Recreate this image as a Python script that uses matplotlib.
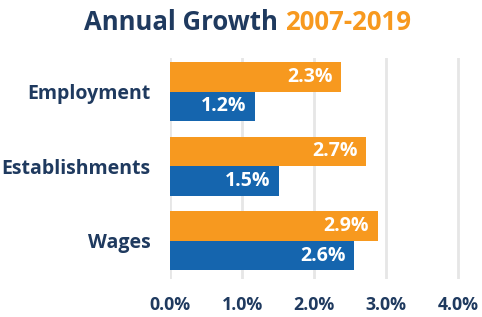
import matplotlib
matplotlib.use("Agg")
import matplotlib.pyplot as plt
import numpy as np

plt.rcParams['font.family'] = ['Open Sans', 'DejaVu Sans']

categories = ["Employment", "Establishments", "Wages"]
orange_vals = [2.38, 2.72, 2.88]
blue_vals = [1.18, 1.51, 2.56]
orange_labels = ["2.3%", "2.7%", "2.9%"]
blue_labels = ["1.2%", "1.5%", "2.6%"]
xticks = [0, 1, 2, 3, 4]
xtick_labels = ["0.0%", "1.0%", "2.0%", "3.0%", "4.0%"]

ORANGE = "#F7991F"
BLUE = "#1565AE"
NAVY = "#1F3A5F"

fig = plt.figure(figsize=(4.82, 3.17), dpi=100, facecolor="white")
# axes in pixels: left 170, right ~482, top 58, bottom 279
ax = fig.add_axes([170 / 482, 1 - 279 / 317, (482 - 170) / 482, (279 - 58) / 317])

y = np.arange(len(categories))
h = 0.396
ax.barh(y - h / 2, orange_vals, height=h, color=ORANGE, zorder=3)
ax.barh(y + h / 2, blue_vals, height=h, color=BLUE, zorder=3)

for i in range(len(categories)):
    ax.text(orange_vals[i] - 0.12, y[i] - h / 2, orange_labels[i], color="white",
            fontsize=14, fontweight="bold", ha="right", va="center", zorder=4)
    ax.text(blue_vals[i] - 0.12, y[i] + h / 2, blue_labels[i], color="white",
            fontsize=14, fontweight="bold", ha="right", va="center", zorder=4)

ax.set_xlim(0, 4.33)
ax.set_ylim(2.51, -0.45)
ax.set_xticks(xticks)
ax.set_xticklabels(xtick_labels, fontsize=12.8, fontweight="bold", color=NAVY)
ax.set_yticks(y)
ax.set_yticklabels(categories, fontsize=14, fontweight="bold", color=NAVY)
ax.tick_params(axis="both", length=0)
ax.tick_params(axis="x", pad=12)
ax.tick_params(axis="y", pad=14)
ax.grid(axis="x", color="#e6e6e6", linewidth=2, zorder=0)
for s in ax.spines.values():
    s.set_visible(False)

# two-colour title
t1 = fig.text(84 / 482, 1 - 22 / 317, "Annual Growth ", fontsize=18.5, fontweight="bold",
              color=NAVY, ha="left", va="center")
fig.canvas.draw()
bb = t1.get_window_extent()
fig.text(bb.x1 / fig.bbox.width, 1 - 22 / 317, "2007-2019", fontsize=18.5,
         fontweight="bold", color=ORANGE, ha="left", va="center")

fig.savefig("out.png", dpi=100, facecolor="white")
